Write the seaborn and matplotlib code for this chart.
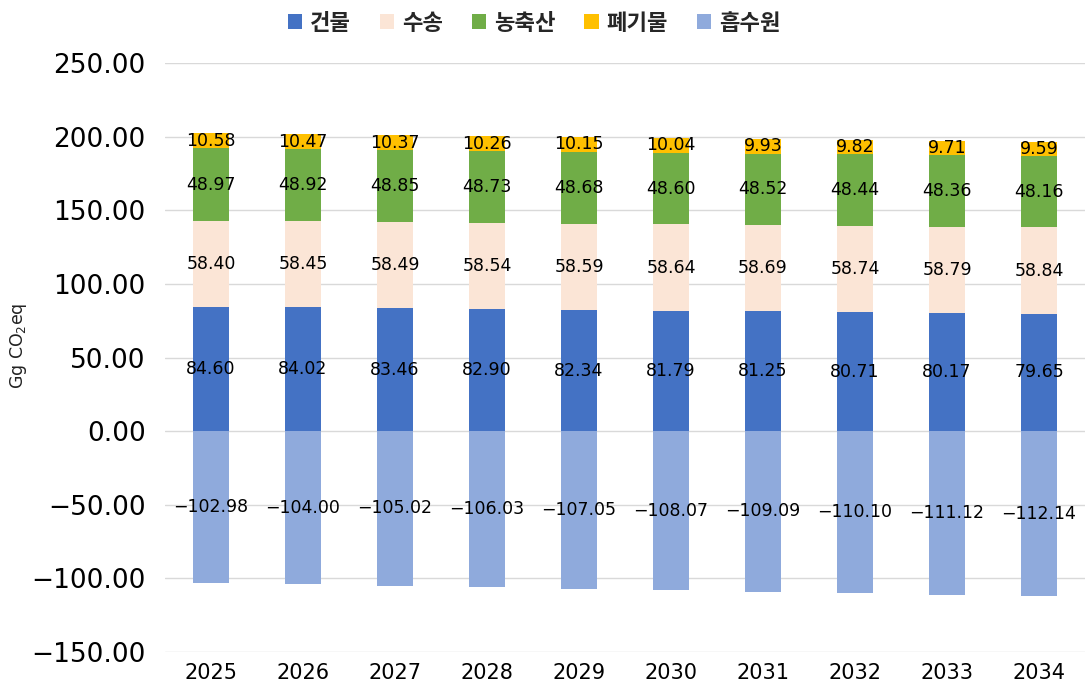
import matplotlib
matplotlib.use("Agg")
import matplotlib.pyplot as plt
import seaborn as sns
import numpy as np
from matplotlib.ticker import FuncFormatter, MultipleLocator
from matplotlib.patches import Patch

years = ["2025", "2026", "2027", "2028", "2029", "2030", "2031", "2032", "2033", "2034"]
building = [84.60, 84.02, 83.46, 82.90, 82.34, 81.79, 81.25, 80.71, 80.17, 79.65]
transport = [58.40, 58.45, 58.49, 58.54, 58.59, 58.64, 58.69, 58.74, 58.79, 58.84]
agriculture = [48.97, 48.92, 48.85, 48.73, 48.68, 48.60, 48.52, 48.44, 48.36, 48.16]
waste = [10.58, 10.47, 10.37, 10.26, 10.15, 10.04, 9.93, 9.82, 9.71, 9.59]
sink = [-102.98, -104.00, -105.02, -106.03, -107.05, -108.07, -109.09, -110.10, -111.12, -112.14]
series_names = ["건물", "수송", "농축산", "폐기물", "흡수원"]
colors = ["#4472C4", "#FBE5D6", "#70AD47", "#FFC000", "#8FAADC"]

sns.set_theme(style="white")
plt.rcParams["font.family"] = ["DejaVu Sans", "Noto Sans CJK KR"]
plt.rcParams["axes.unicode_minus"] = True

fig = plt.figure(figsize=(10.9, 6.9), dpi=100)
ax = fig.add_axes([165 / 1090, 38 / 690, 920 / 1090, 589 / 690])

b = np.array(building)
t = np.array(transport)
a = np.array(agriculture)
w = np.array(waste)
s = np.array(sink)

stack = [
    (b, np.zeros(len(years))),
    (t, b),
    (a, b + t),
    (w, b + t + a),
    (s, np.zeros(len(years))),
]

def fmt(v):
    return f"{v:.2f}".replace("-", "\u2212")

for (vals, bottom), name, col in zip(stack, series_names, colors):
    sns.barplot(x=years, y=vals, bottom=bottom, color=col, width=0.40,
                saturation=1, ax=ax, errorbar=None, linewidth=0)
    cont = ax.containers[-1]
    ax.bar_label(cont, labels=[fmt(v) for v in vals], label_type="center",
                 fontsize=12.5, color="#000000")

if ax.get_legend() is not None:
    ax.get_legend().remove()

ax.set_ylim(-150, 250)
ax.set_xlim(-0.5, len(years) - 0.5)
ax.yaxis.set_major_locator(MultipleLocator(50))
ax.yaxis.set_major_formatter(FuncFormatter(lambda v, p: fmt(v)))
ax.yaxis.grid(True, color="#D9D9D9", linewidth=1)
ax.xaxis.grid(False)
ax.set_axisbelow(True)
for sp in ax.spines.values():
    sp.set_visible(False)
ax.tick_params(axis="y", labelsize=19, length=0, pad=14, colors="#000000")
ax.tick_params(axis="x", labelsize=15, length=0, pad=8, colors="#000000")
ax.set_xlabel("")
ax.set_ylabel("Gg CO$_2$eq", fontsize=12.5, color="#222222")
ax.yaxis.set_label_coords(-0.148, 0.52)

handles = [Patch(facecolor=c, edgecolor="none") for c in colors]
fig.legend(handles, series_names, loc="upper center", bbox_to_anchor=(0.49, 1.012),
           ncol=5, frameon=False, handlelength=0.65, handleheight=0.65,
           handletextpad=0.35, columnspacing=1.3,
           prop={"family": ["Noto Sans CJK KR"], "size": 16, "weight": "bold"})

fig.savefig("out.png", dpi=100)
